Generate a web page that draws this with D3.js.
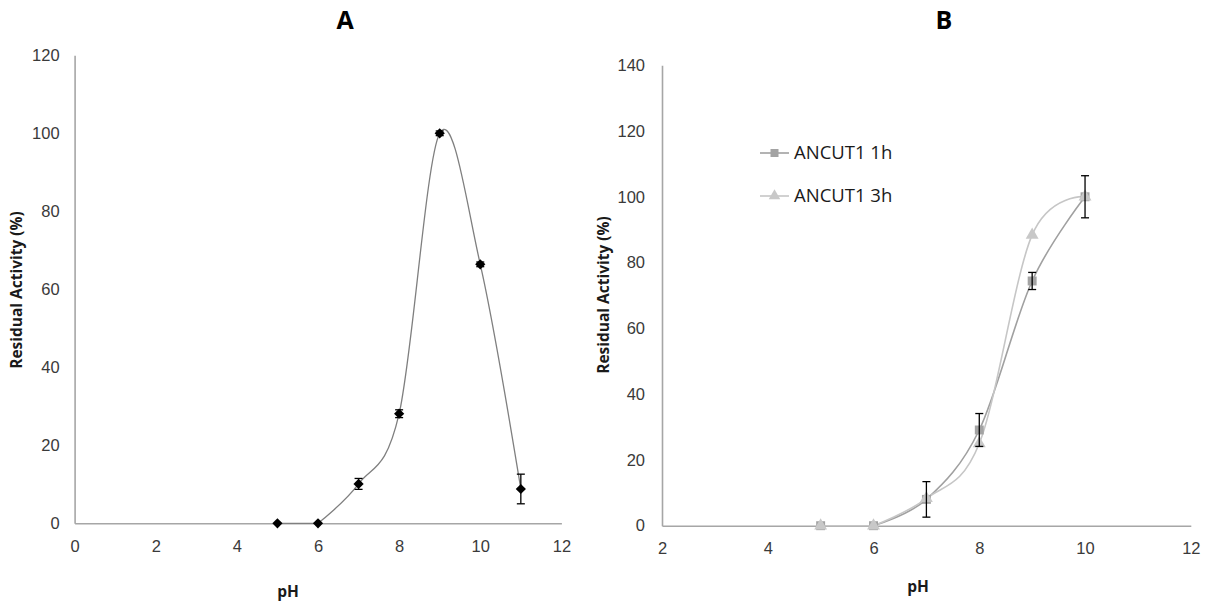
<!DOCTYPE html>
<html>
<head>
<meta charset="utf-8">
<script src="https://cdn.jsdelivr.net/npm/d3@7"></script>
<style>
  body { margin: 0; background: #fff; }
  svg { display: block; font-family: "Open Sans", "Noto Sans", sans-serif; }
  .tick text { fill: #3a3a3a; font-size: 16.5px; }
  .axis_title { font-weight: bold; font-size: 15.5px; fill: #1a1a1a; }
  .panel_title { font-weight: bold; font-size: 25px; fill: #000; }
  .legend_text { font-size: 18.5px; fill: #1a1a1a; }
</style>
</head>
<body>
<svg id="chart" width="1211" height="603"></svg>
<script>
// Panel A: single series
const phA = [5, 6, 7, 8, 9, 10, 11];
const activityA = [0, 0, 10.1, 28.1, 100, 66.4, 8.8];
const errorA = [0, 0, 1.4, 1.0, 0.6, 0.6, 3.8];

// Panel B: two series
const phB = [5, 6, 7, 8, 9, 10];
const activity1h = [0, 0, 8.0, 29.1, 74.4, 100];
const error1h = [0, 0, 5.4, 5.0, 2.6, 6.4];
const activity3h = [0, 0, 8.3, 25.0, 88.4, 100];
const seriesNames = ["ANCUT1 1h", "ANCUT1 3h"];

const xTicksA = [0, 2, 4, 6, 8, 10, 12];
const yTicksA = [0, 20, 40, 60, 80, 100, 120];
const xTicksB = [2, 4, 6, 8, 10, 12];
const yTicksB = [0, 20, 40, 60, 80, 100, 120, 140];

const AXIS_COLOR = "#a6a6a6";
const COLOR_1H = "#a3a3a3";
const COLOR_3H = "#c8c8c8";

const svg = d3.select("#chart");
const smooth = d3.curveCardinal.tension(0);

function drawAxes(g, x, y, xTicks, yTicks, yPad) {
  const yAxis = g.append("g")
    .attr("transform", `translate(${x.range()[0]},0)`)
    .call(d3.axisLeft(y).tickValues(yTicks).tickSize(0).tickPadding(yPad));
  const xAxis = g.append("g")
    .attr("transform", `translate(0,${y.range()[0]})`)
    .call(d3.axisBottom(x).tickValues(xTicks).tickSize(0).tickPadding(17));
  [yAxis, xAxis].forEach((a) => {
    a.select(".domain").attr("stroke", AXIS_COLOR).attr("stroke-width", 1.6);
  });
}

// flat lead-in segment drawn straight, the rest smoothed (no dip below zero)
function drawSeriesLine(g, x, y, xs, ys, color, width) {
  const pts = xs.map((d, i) => [d, ys[i]]);
  const lineStraight = d3.line().x((d) => x(d[0])).y((d) => y(d[1]));
  const lineSmooth = d3.line().x((d) => x(d[0])).y((d) => y(d[1])).curve(smooth);
  g.append("path").datum(pts.slice(0, 2))
    .attr("fill", "none").attr("stroke", color).attr("stroke-width", width)
    .attr("d", lineStraight);
  g.append("path").datum(pts.slice(1))
    .attr("fill", "none").attr("stroke", color).attr("stroke-width", width)
    .attr("d", lineSmooth);
}

function drawErrors(g, x, y, xs, ys, errs) {
  const data = xs.map((d, i) => ({ x: d, y: ys[i], e: errs[i] })).filter((d) => d.e > 0);
  const eb = g.append("g").attr("stroke", "#000").attr("stroke-width", 1.3);
  eb.selectAll(".v").data(data).enter().append("line")
    .attr("x1", (d) => x(d.x)).attr("x2", (d) => x(d.x))
    .attr("y1", (d) => y(d.y - d.e)).attr("y2", (d) => y(d.y + d.e));
  [-1, 1].forEach((s) => {
    eb.selectAll(".c" + s).data(data).enter().append("line")
      .attr("x1", (d) => x(d.x) - 4).attr("x2", (d) => x(d.x) + 4)
      .attr("y1", (d) => y(d.y + s * d.e)).attr("y2", (d) => y(d.y + s * d.e));
  });
}

// ---------- Panel A ----------
const xA = d3.scaleLinear().domain([0, 12]).range([74.6, 561.4]);
const yA = d3.scaleLinear().domain([0, 120]).range([523.3, 55.3]);
const gA = svg.append("g");
drawAxes(gA, xA, yA, xTicksA, yTicksA, 15);

drawSeriesLine(gA, xA, yA, phA, activityA, "#7f7f7f", 1.3);
drawErrors(gA, xA, yA, phA, activityA, errorA);

gA.selectAll(".markA")
  .data(phA.map((d, i) => [d, activityA[i]]))
  .enter().append("path")
  .attr("d", d3.symbol(d3.symbolSquare, 52))
  .attr("transform", (d) => `translate(${xA(d[0])},${yA(d[1])}) rotate(45)`)
  .attr("fill", "#000");

gA.append("text").attr("class", "panel_title")
  .attr("x", 345).attr("y", 29).attr("text-anchor", "middle").text("A");
gA.append("text").attr("class", "axis_title")
  .attr("x", 288).attr("y", 597).attr("text-anchor", "middle").text("pH");
gA.append("text").attr("class", "axis_title")
  .attr("transform", "translate(22,290) rotate(-90)")
  .attr("text-anchor", "middle").text("Residual Activity (%)");

// ---------- Panel B ----------
const xB = d3.scaleLinear().domain([2, 12]).range([662, 1190.8]);
const yB = d3.scaleLinear().domain([0, 140]).range([525.7, 65.2]);
const gB = svg.append("g");
drawAxes(gB, xB, yB, xTicksB, yTicksB, 17);

const series = [
  { name: seriesNames[0], vals: activity1h, color: COLOR_1H, line: "#a0a0a0", sym: d3.symbolSquare, size: 80 },
  { name: seriesNames[1], vals: activity3h, color: COLOR_3H, line: "#c6c6c6", sym: d3.symbolTriangle, size: 72 },
];

series.forEach((s) => drawSeriesLine(gB, xB, yB, phB, s.vals, s.line, 1.6));
series.forEach((s) => {
  gB.selectAll(null)
    .data(phB.map((d, i) => [d, s.vals[i]]))
    .enter().append("path")
    .attr("d", d3.symbol(s.sym, s.size))
    .attr("transform", (d) => `translate(${xB(d[0])},${yB(d[1])})`)
    .attr("fill", s.color);
});
drawErrors(gB, xB, yB, phB, activity1h, error1h);

// Legend
const legend = gB.append("g").attr("transform", "translate(760,153)");
const legendItem = legend.selectAll(".legend_item")
  .data(series).enter().append("g")
  .attr("transform", (d, i) => `translate(0,${i * 43})`);
legendItem.append("line")
  .attr("x1", 0).attr("x2", 29).attr("y1", 0).attr("y2", 0)
  .attr("stroke", (d) => d.line).attr("stroke-width", 1.6);
legendItem.append("path")
  .attr("d", (d) => d3.symbol(d.sym, d.size * 0.8)())
  .attr("transform", "translate(14.5,0)")
  .attr("fill", (d) => d.color);
legendItem.append("text").attr("class", "legend_text")
  .attr("x", 34).attr("y", 0).attr("dy", "0.35em")
  .text((d) => d.name);

gB.append("text").attr("class", "panel_title")
  .attr("x", 944).attr("y", 29).attr("text-anchor", "middle").text("B");
gB.append("text").attr("class", "axis_title")
  .attr("x", 918).attr("y", 592).attr("text-anchor", "middle").text("pH");
gB.append("text").attr("class", "axis_title")
  .attr("transform", "translate(609,295) rotate(-90)")
  .attr("text-anchor", "middle").text("Residual Activity (%)");
</script>
</body>
</html>
